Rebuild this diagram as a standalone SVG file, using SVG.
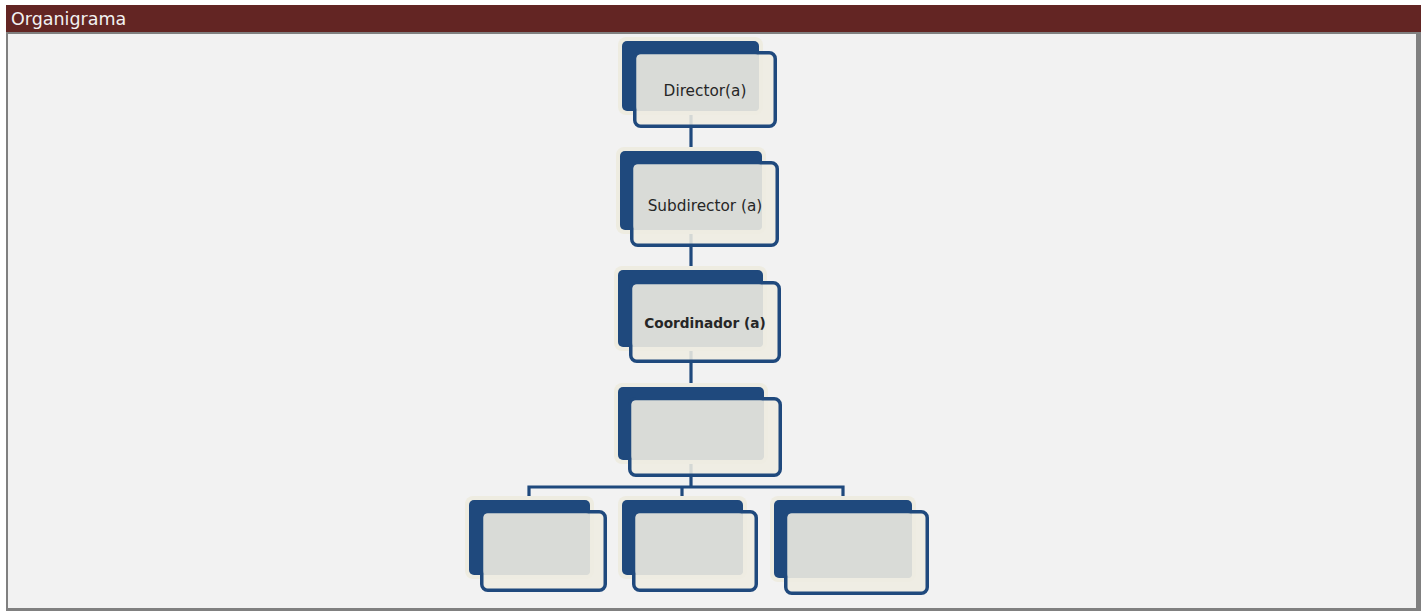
<svg xmlns="http://www.w3.org/2000/svg" width="1421" height="611" viewBox="0 0 1421 611">
  <style>
    .halo { fill: #eeece1; }
    .back { fill: #1f497d; }
    .front { fill: #eeece1; fill-opacity: 0.88; stroke: #1f497d; stroke-width: 3.5; }
    .inner { fill: #d9dbd7; }
    .lbl { font-family: "DejaVu Sans", "Liberation Sans", sans-serif; fill: #262626; text-anchor: middle; }
    .conn { fill: none; stroke: #1f497d; stroke-width: 3.2; stroke-linejoin: miter; }
  </style>

  <!-- page panel with shadowed frame -->
  <rect x="0" y="0" width="1421" height="611" fill="#ffffff"/>
  <rect x="6" y="32" width="1415" height="579" fill="#808080"/>
  <rect x="8" y="34" width="1408" height="574" fill="#f2f2f2"/>

  <!-- title bar -->
  <g id="header">
    <rect x="6" y="5" width="1415" height="27" fill="#632523"/>
    <text x="11" y="25" font-family="DejaVu Sans, Liberation Sans, sans-serif" font-size="17.5" fill="#f2f2f2">Organigrama</text>
  </g>

  <!-- connectors -->
  <g id="connectors">
    <path class="conn" d="M691 114 V153"/>
    <path class="conn" d="M691 233 V272"/>
    <path class="conn" d="M691 350 V389"/>
    <path class="conn" d="M691 462 V487"/>
    <path class="conn" d="M529 499 V487 H843 V499"/>
    <path class="conn" d="M682 487 V499"/>
  </g>

  <!-- Director(a) -->
  <g id="node-director">
    <rect class="halo" x="618" y="37" width="145" height="78" rx="8"/>
    <rect class="back" x="622" y="41" width="137" height="70" rx="5"/>
    <rect class="front" x="634.75" y="52.75" width="140.5" height="73.5" rx="6"/>
    <rect class="inner" x="636.5" y="54.5" width="122.5" height="56.5" rx="4"/>
    <text class="lbl" x="705" y="96" font-size="15.3">Director(a)</text>
  </g>

  <!-- Subdirector (a) -->
  <g id="node-subdirector">
    <rect class="halo" x="616" y="147" width="150" height="87" rx="8"/>
    <rect class="back" x="620" y="151" width="142" height="79" rx="5"/>
    <rect class="front" x="631.75" y="162.75" width="145.5" height="82.5" rx="6"/>
    <rect class="inner" x="633.5" y="164.5" width="128.5" height="65.5" rx="4"/>
    <text class="lbl" x="705" y="210.5" font-size="15.3">Subdirector (a)</text>
  </g>

  <!-- Coordinador (a) -->
  <g id="node-coordinador">
    <rect class="halo" x="614" y="266" width="153" height="85" rx="8"/>
    <rect class="back" x="618" y="270" width="145" height="77" rx="5"/>
    <rect class="front" x="630.75" y="282.75" width="148.5" height="78.5" rx="6"/>
    <rect class="inner" x="632.5" y="284.5" width="130.5" height="62.5" rx="4"/>
    <text class="lbl" x="705" y="328" font-size="13.7" font-weight="bold" fill="#000000">Coordinador (a)</text>
  </g>

  <!-- empty level-4 box -->
  <g id="node-level4">
    <rect class="halo" x="614" y="383" width="154" height="81" rx="8"/>
    <rect class="back" x="618" y="387" width="146" height="73" rx="5"/>
    <rect class="front" x="629.75" y="398.75" width="150.5" height="76.5" rx="6"/>
    <rect class="inner" x="631.5" y="400.5" width="132.5" height="59.5" rx="4"/>
  </g>

  <!-- bottom row, left -->
  <g id="node-bottom-a">
    <rect class="halo" x="465" y="496" width="129" height="83" rx="8"/>
    <rect class="back" x="469" y="500" width="121" height="75" rx="5"/>
    <rect class="front" x="481.75" y="511.75" width="123.5" height="78.5" rx="6"/>
    <rect class="inner" x="483.5" y="513.5" width="106.5" height="61.5" rx="4"/>
  </g>

  <!-- bottom row, middle -->
  <g id="node-bottom-b">
    <rect class="halo" x="618" y="496" width="129" height="83" rx="8"/>
    <rect class="back" x="622" y="500" width="121" height="75" rx="5"/>
    <rect class="front" x="633.75" y="511.75" width="122.5" height="78.5" rx="6"/>
    <rect class="inner" x="635.5" y="513.5" width="107.5" height="61.5" rx="4"/>
  </g>

  <!-- bottom row, right -->
  <g id="node-bottom-c">
    <rect class="halo" x="770" y="496" width="146" height="86" rx="8"/>
    <rect class="back" x="774" y="500" width="138" height="78" rx="5"/>
    <rect class="front" x="785.75" y="511.75" width="141.5" height="81.5" rx="6"/>
    <rect class="inner" x="787.5" y="513.5" width="124.5" height="64.5" rx="4"/>
  </g>
</svg>
